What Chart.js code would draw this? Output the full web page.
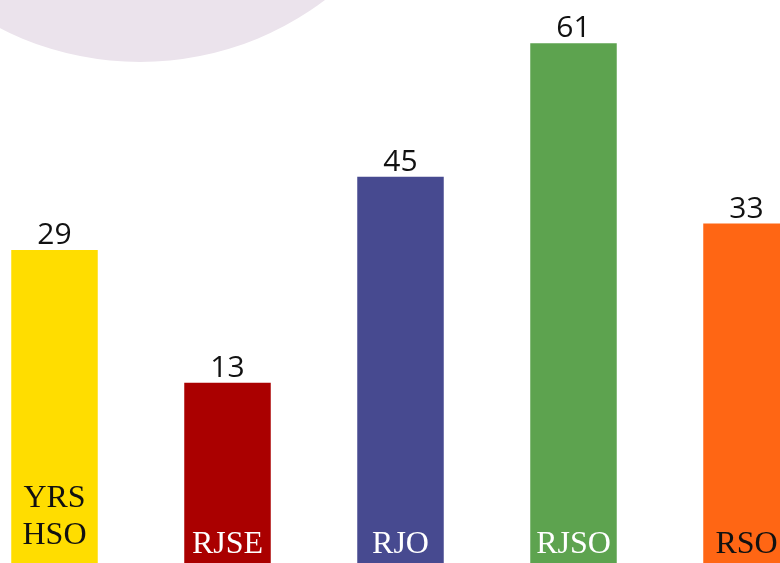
<!DOCTYPE html>
<html>
<head>
<meta charset="utf-8">
<script src="https://cdn.jsdelivr.net/npm/chart.js@4"></script>
<style>
    html, body { margin: 0; padding: 0; background: #ffffff; overflow: hidden; }
    #wrap { position: absolute; left: -32px; top: 0; width: 865px; height: 563px; }
</style>
</head>
<body>
<div id="wrap"><canvas id="orgChart"></canvas></div>
<script>
// categories (multi-line labels as arrays)
const categories = [['YRS', 'HSO'], ['RJSE'], ['RJO'], ['RJSO'], ['RSO']];
// numbers printed above each bar
const shownValues = [29, 13, 45, 61, 33];
// bar lengths, % of plot height
const barHeights = [55.6, 32.0, 68.6, 92.3, 60.3];
const barColors = ['#FFDD00', '#AA0000', '#474A90', '#5DA34F', '#FF6614'];
const labelColors = ['#111111', '#ffffff', '#ffffff', '#ffffff', '#111111'];

const bgCircle = {
    id: 'bgCircle',
    beforeDraw(chart) {
        const { ctx } = chart;
        ctx.save();
        ctx.fillStyle = '#EBE3EC';
        ctx.beginPath();
        ctx.arc(172, -245, 307, 0, Math.PI * 2); // canvas is shifted 32px left
        ctx.fill();
        ctx.restore();
    }
};

const barTexts = {
    id: 'barTexts',
    afterDatasetsDraw(chart) {
        const { ctx } = chart;
        const meta = chart.getDatasetMeta(0);
        ctx.save();
        ctx.textAlign = 'center';
        ctx.textBaseline = 'alphabetic';
        meta.data.forEach((bar, i) => {
            // value above the bar
            ctx.font = '30px "Open Sans"';
            ctx.fillStyle = '#111111';
            ctx.fillText(String(shownValues[i]), bar.x, bar.y - 6);

            // category name inside the bar, bottom
            ctx.font = '32px "Liberation Serif"';
            ctx.fillStyle = labelColors[i];
            const lines = categories[i];
            if (lines.length > 1) {
                lines.forEach((line, j) => {
                    ctx.fillText(line, bar.x, bar.base - 19 - (lines.length - 1 - j) * 37);
                });
            } else {
                ctx.fillText(lines[0], bar.x, bar.base - 10);
            }
        });
        ctx.restore();
    }
};

new Chart(document.getElementById('orgChart'), {
    type: 'bar',
    data: {
        labels: categories.map(l => l.join(' ')),
        datasets: [{
            data: barHeights,
            backgroundColor: barColors,
            borderWidth: 0,
            barPercentage: 0.5,
            categoryPercentage: 1.0
        }]
    },
    options: {
        responsive: true,
        maintainAspectRatio: false,
        animation: false,
        layout: { padding: 0 },
        plugins: {
            legend: { display: false },
            tooltip: { enabled: false },
            title: { display: false }
        },
        scales: {
            x: {
                display: false,
                grid: { display: false }
            },
            y: {
                display: false,
                min: 0,
                max: 100,
                grid: { display: false }
            }
        }
    },
    plugins: [bgCircle, barTexts]
});
</script>
</body>
</html>
